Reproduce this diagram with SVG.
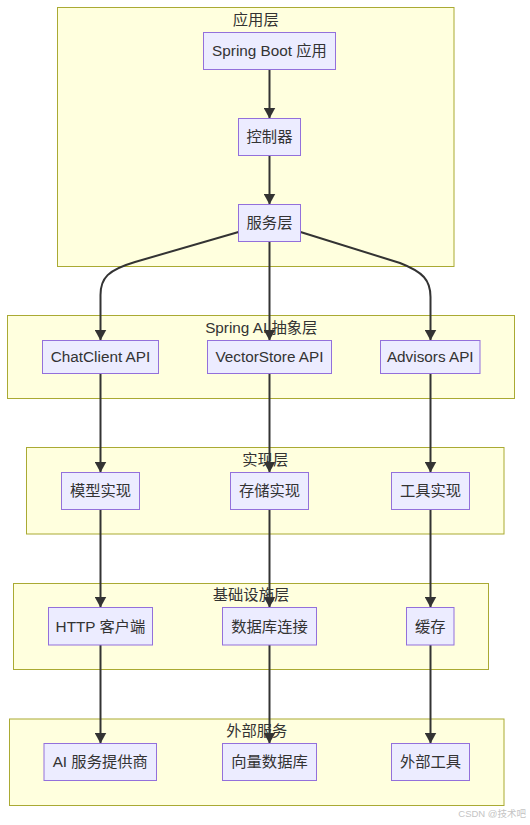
<svg xmlns="http://www.w3.org/2000/svg" width="530" height="825" viewBox="0 0 530 825">
<style>
.cluster rect{fill:#ffffde;stroke:#aaaa33;stroke-width:1}
.node rect{fill:#ececff;stroke:#9370db;stroke-width:1}
text{font-family:"Liberation Sans","Noto Sans CJK SC",sans-serif;font-size:15.3px;fill:#333;text-anchor:middle}
.edge{fill:none;stroke:#333;stroke-width:2;marker-end:url(#arrow)}
.wm{font-size:9.5px;fill:#c4c4c4;text-anchor:end}
</style>
<defs>
<marker id="arrow" viewBox="0 0 11 12" refX="11" refY="6" markerWidth="11" markerHeight="12" markerUnits="userSpaceOnUse" orient="auto">
<path d="M0,0 L11,6 L0,12 z" fill="#333"/>
</marker>
</defs>
<rect width="530" height="825" fill="#fff"/>
<g id="clusters">
<g id="cluster-app" class="cluster"><rect x="57.5" y="7.5" width="396.5" height="259"/><text x="255.75" y="25">应用层</text></g>
<g id="cluster-springai" class="cluster"><rect x="7.5" y="315.5" width="507" height="83"/><text x="261.25" y="333">Spring AI 抽象层</text></g>
<g id="cluster-impl" class="cluster"><rect x="26.5" y="447.5" width="477.5" height="86.5"/><text x="265.25" y="465">实现层</text></g>
<g id="cluster-infra" class="cluster"><rect x="13.5" y="583.5" width="475" height="86"/><text x="251" y="600">基础设施层</text></g>
<g id="cluster-ext" class="cluster"><rect x="9.5" y="719" width="494.5" height="86.5"/><text x="256.75" y="736">外部服务</text></g>
</g>
<g id="edges">
<path class="edge" d="M269.5,69.5 L269.5,118.5"/>
<path class="edge" d="M269.5,155.5 L269.5,204.5"/>
<path class="edge" d="M238.5,232 L135,262 C108,270 100.5,278 100.5,295 L100.5,340.5"/>
<path class="edge" d="M269.5,241.5 L269.5,340.5"/>
<path class="edge" d="M300.5,232 L400,263 C423,272 430.5,280 430.5,297 L430.5,340.5"/>
<path class="edge" d="M100.5,373.5 L100.5,472.5"/>
<path class="edge" d="M269.5,373.5 L269.5,472.5"/>
<path class="edge" d="M430.5,373.5 L430.5,472.5"/>
<path class="edge" d="M100.5,509.5 L100.5,607.5"/>
<path class="edge" d="M269.5,509.5 L269.5,607.5"/>
<path class="edge" d="M430.5,509.5 L430.5,607.5"/>
<path class="edge" d="M100.5,645 L100.5,743.5"/>
<path class="edge" d="M269.5,645 L269.5,743.5"/>
<path class="edge" d="M430.5,645 L430.5,743.5"/>
</g>
<g id="nodes">
<g id="n-springboot" class="node"><rect x="203.5" y="32.5" width="132" height="37"/><text x="269.5" y="56.3">Spring Boot 应用</text></g>
<g id="n-controller" class="node"><rect x="238.5" y="118.5" width="62" height="37"/><text x="269.5" y="142.3">控制器</text></g>
<g id="n-service" class="node"><rect x="238.5" y="204.5" width="62" height="37"/><text x="269.5" y="228.3">服务层</text></g>
<g id="n-chatclient" class="node"><rect x="42.5" y="340.5" width="116" height="33"/><text x="100.5" y="362.3">ChatClient API</text></g>
<g id="n-vectorstore" class="node"><rect x="207.5" y="340.5" width="124" height="33"/><text x="269.5" y="362.3">VectorStore API</text></g>
<g id="n-advisors" class="node"><rect x="380.5" y="340.5" width="99.5" height="33"/><text x="430.25" y="362.3">Advisors API</text></g>
<g id="n-model" class="node"><rect x="61.5" y="472.5" width="78" height="37"/><text x="100.5" y="496.3">模型实现</text></g>
<g id="n-storage" class="node"><rect x="230.5" y="472.5" width="78" height="37"/><text x="269.5" y="496.3">存储实现</text></g>
<g id="n-tool" class="node"><rect x="391.5" y="472.5" width="78" height="37"/><text x="430.5" y="496.3">工具实现</text></g>
<g id="n-http" class="node"><rect x="48.5" y="607.5" width="104" height="37.5"/><text x="100.5" y="631.5">HTTP 客户端</text></g>
<g id="n-db" class="node"><rect x="222.5" y="607.5" width="94" height="37.5"/><text x="269.5" y="631.5">数据库连接</text></g>
<g id="n-cache" class="node"><rect x="406.5" y="607.5" width="47.5" height="37.5"/><text x="430.25" y="631.5">缓存</text></g>
<g id="n-aiprovider" class="node"><rect x="44" y="743.5" width="112.5" height="37"/><text x="100.25" y="767.3">AI 服务提供商</text></g>
<g id="n-vectordb" class="node"><rect x="222.5" y="743.5" width="94" height="37"/><text x="269.5" y="767.3">向量数据库</text></g>
<g id="n-exttool" class="node"><rect x="391.5" y="743.5" width="78" height="37"/><text x="430.5" y="767.3">外部工具</text></g>
</g>
<text class="wm" x="526" y="817">CSDN @技术吧</text>
</svg>
